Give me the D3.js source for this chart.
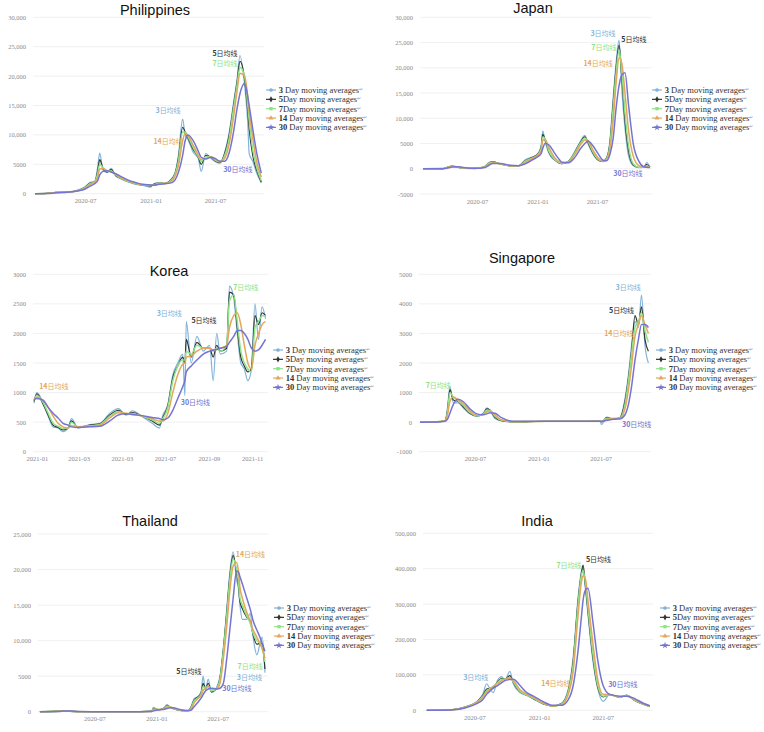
<!DOCTYPE html>
<html>
<head>
<meta charset="utf-8">
<script src="https://cdn.jsdelivr.net/npm/d3@7/dist/d3.min.js"></script>
<style>
  body { margin: 0; background: #fff; }
  svg { display: block; font-family: "Liberation Sans", Arial, sans-serif; }
</style>
</head>
<body>
<svg id="chart" width="764" height="732"></svg>
<script>
// series names / colours
const seriesDays = ["3", "5", "7", "14", "30"];
const seriesColors = ["#82b3d9", "#2f3531", "#8ee387", "#e3a75b", "#7474d2"];

// ---- Philippines
const phDates = ["2020-02-11","2020-03-15","2020-04-10","2020-05-10","2020-06-10","2020-07-01","2020-07-15","2020-07-28","2020-08-05","2020-08-11","2020-08-20","2020-09-01","2020-09-12","2020-09-25","2020-10-10","2020-10-30","2020-11-20","2020-12-10","2021-01-01","2021-01-10","2021-01-25","2021-02-10","2021-02-25","2021-03-10","2021-03-20","2021-04-01","2021-04-08","2021-04-16","2021-05-01","2021-05-15","2021-05-23","2021-06-05","2021-06-20","2021-07-01","2021-07-15","2021-07-28","2021-08-10","2021-08-22","2021-09-01","2021-09-09","2021-09-22","2021-10-01","2021-10-05","2021-10-15","2021-10-26","2021-11-08"];
const ph3  = [0,80,250,280,600,1200,1900,2100,4500,6900,4000,3600,4300,3000,2500,2000,1600,1400,1100,1700,1900,1700,2300,3500,6500,12700,10000,9200,7000,6000,3800,6800,6000,5500,5200,7000,10500,15500,19500,23500,18500,12000,6800,5500,3500,1800];
const ph5  = [0,70,230,260,550,1100,1800,2000,3800,5800,4300,3700,4100,3100,2600,2100,1700,1450,1300,1600,1850,1750,2200,3300,6000,11300,10500,9500,7500,6200,5000,6500,6200,5600,5300,6800,10000,15000,19000,22500,19500,14000,11000,6500,4000,2000];
const ph7  = [0,60,220,250,520,1050,1700,2000,3400,5000,4400,3800,3900,3200,2600,2100,1700,1500,1400,1500,1800,1750,2100,3200,5500,10500,10500,9700,7800,6300,5500,6300,6300,5700,5400,6500,9500,14500,18500,21500,20000,15000,12500,7500,4500,2200];
const ph14 = [0,40,200,250,500,950,1600,1900,2800,4200,4300,3900,3700,3300,2700,2200,1800,1500,1450,1450,1750,1750,2000,2900,4700,9000,10300,9900,8200,6500,5800,6000,6300,5800,5500,6000,8500,13000,17500,20500,20000,16500,14000,9500,5500,2800];
const ph30 = [0,20,150,250,450,800,1300,1700,2200,3200,3800,3900,3700,3400,2900,2300,1900,1600,1500,1450,1600,1700,1800,2300,3600,6500,9000,10000,9000,7200,6200,5900,6200,6000,5500,5500,7000,10500,14500,17000,18800,16500,15000,11000,7000,3500];

// ---- Japan
const jpDates = ["2020-01-19","2020-03-20","2020-04-06","2020-04-16","2020-05-01","2020-05-20","2020-06-25","2020-07-25","2020-08-08","2020-08-18","2020-09-10","2020-10-10","2020-11-05","2020-11-25","2020-12-15","2021-01-02","2021-01-12","2021-01-17","2021-01-24","2021-02-05","2021-02-20","2021-03-05","2021-03-16","2021-04-05","2021-04-25","2021-05-12","2021-05-25","2021-06-03","2021-06-18","2021-07-04","2021-07-19","2021-07-30","2021-08-09","2021-08-19","2021-08-28","2021-09-06","2021-09-14","2021-09-24","2021-10-05","2021-10-19","2021-11-05","2021-11-20","2021-11-29","2021-12-09"];
const jp3  = [0,30,400,600,300,80,60,500,1300,1400,900,550,600,1800,2300,3000,4500,7500,5500,3000,1800,1200,1000,1500,3500,5500,6600,5000,3000,1700,1400,2200,5500,14000,21000,25500,16000,8000,2500,600,200,300,1200,300];
const jp5  = [0,30,380,550,350,100,60,450,1200,1350,950,580,600,1600,2200,2900,4200,6800,5800,3300,1900,1250,1000,1450,3300,5300,6300,5300,3200,1800,1450,2100,5000,13000,20000,24500,18500,9500,3500,800,250,300,800,300];
const jp7  = [0,30,350,520,380,120,60,400,1150,1300,950,600,600,1500,2100,2800,3900,6300,5900,3500,2000,1300,1050,1400,3200,5100,6100,5500,3400,1900,1500,2000,4500,12000,19000,23500,19500,11000,4500,1000,300,300,600,300];
const jp14 = [0,30,300,450,420,150,60,350,1000,1200,1000,620,600,1300,2000,2700,3500,5600,5800,4200,2400,1500,1100,1350,2900,4800,5700,5600,3800,2200,1500,1800,3800,9500,17000,22000,21000,15000,7500,2500,600,300,400,300];
const jp30 = [0,20,200,350,420,250,80,250,750,1050,1050,700,620,1000,1700,2400,3000,4000,5000,4700,3300,2100,1300,1200,2300,4000,5000,5500,4600,3000,1700,1600,2800,6000,12000,16500,18500,19000,12500,5000,1500,400,300,250];

// ---- Korea
const krDates = ["2020-12-28","2021-01-01","2021-01-10","2021-01-17","2021-01-24","2021-01-31","2021-02-07","2021-02-14","2021-02-19","2021-02-28","2021-03-17","2021-03-31","2021-04-14","2021-04-26","2021-05-07","2021-05-16","2021-05-30","2021-06-13","2021-06-23","2021-06-28","2021-07-05","2021-07-12","2021-07-19","2021-07-26","2021-07-29","2021-07-31","2021-08-07","2021-08-15","2021-08-24","2021-09-02","2021-09-07","2021-09-12","2021-09-17","2021-09-26","2021-09-30","2021-10-06","2021-10-11","2021-10-16","2021-10-21","2021-10-26","2021-10-31","2021-11-05","2021-11-10","2021-11-15","2021-11-20"];
const kr3  = [820,1000,820,600,420,400,340,400,560,400,460,480,650,730,620,690,590,480,400,620,800,1300,1500,1650,950,2200,1500,1950,1700,1800,1200,2000,1650,1700,2800,2600,2000,1500,1400,1200,1400,2500,1900,2450,2250];
const kr5  = [850,980,800,620,450,410,370,400,520,410,450,470,620,700,630,660,600,520,450,580,780,1250,1450,1600,1500,1900,1600,1850,1750,1750,1600,1800,1700,1750,2700,2650,2100,1600,1450,1350,1400,2300,2150,2350,2300];
const kr7  = [870,950,830,650,480,430,390,400,500,420,440,460,600,680,640,645,600,540,480,560,750,1200,1450,1550,1550,1700,1650,1800,1750,1750,1700,1750,1700,1800,2550,2650,2200,1700,1500,1400,1350,2100,2200,2300,2300];
const kr14 = [880,920,860,750,600,480,420,400,440,420,430,450,570,660,650,630,605,560,520,520,650,1000,1300,1480,1500,1600,1620,1700,1750,1750,1720,1730,1750,1800,2100,2300,2350,2150,1800,1500,1400,1800,2000,2150,2200];
const kr30 = [880,900,870,750,650,570,480,450,420,410,420,430,520,620,640,630,610,580,560,540,570,700,900,1100,1200,1350,1450,1550,1650,1700,1720,1730,1750,1780,1850,1950,2050,2050,2000,1900,1750,1700,1720,1800,1900];

// ---- Singapore
const sgDates = ["2020-01-23","2020-03-10","2020-04-05","2020-04-12","2020-04-19","2020-04-29","2020-05-13","2020-05-28","2020-06-16","2020-07-06","2020-07-25","2020-08-04","2020-08-13","2020-08-28","2020-09-16","2020-10-20","2021-01-25","2021-05-22","2021-06-29","2021-07-04","2021-07-19","2021-08-07","2021-08-26","2021-09-10","2021-09-20","2021-09-29","2021-10-09","2021-10-19","2021-10-28","2021-11-07","2021-11-17"];
const sg3  = [0,10,60,500,1200,650,650,480,280,200,300,480,400,120,40,10,30,30,40,-80,170,100,150,800,1600,2600,3400,3200,4300,2600,2000];
const sg5  = [0,10,55,400,1100,750,700,520,300,200,280,450,420,160,50,10,30,30,35,10,150,110,150,700,1500,2400,3600,3300,3900,2800,2400];
const sg7  = [0,10,50,350,1000,850,720,560,330,210,270,400,400,200,60,15,30,30,30,20,130,120,140,600,1400,2300,3200,3400,3700,3100,2700];
const sg14 = [0,10,40,250,700,850,750,620,380,230,260,350,380,250,80,20,30,30,30,30,100,120,130,450,1100,1900,2900,3300,3600,3300,3000];
const sg30 = [0,5,30,100,300,600,770,690,450,280,250,280,320,300,150,30,30,30,30,30,60,100,110,250,600,1200,2100,2800,3300,3300,3200];

// ---- Thailand
const thDates = ["2020-01-22","2020-03-20","2020-03-30","2020-04-20","2020-05-20","2020-07-18","2020-11-13","2020-12-18","2020-12-23","2021-01-05","2021-01-15","2021-01-25","2021-02-01","2021-02-10","2021-02-20","2021-03-05","2021-03-17","2021-04-05","2021-04-14","2021-04-22","2021-05-05","2021-05-13","2021-05-19","2021-05-26","2021-06-03","2021-06-13","2021-06-28","2021-07-08","2021-07-18","2021-07-28","2021-08-06","2021-08-16","2021-08-26","2021-08-31","2021-09-05","2021-09-12","2021-09-25","2021-10-05","2021-10-14","2021-10-25","2021-11-03","2021-11-10","2021-11-18"];
const th3  = [0,120,150,40,5,5,10,100,600,250,350,600,1000,600,400,250,150,150,800,1800,2200,2800,5000,3000,4600,2700,3400,5000,9000,14500,19500,22500,18500,17500,15000,13000,13000,13800,10500,8000,9500,10500,5500];
const th5  = [0,110,140,50,5,5,10,80,450,300,330,550,900,650,450,250,160,150,700,1600,2100,2600,4000,3300,4000,2800,3300,4800,8800,14000,19000,22000,19500,18000,15500,14500,13300,12800,10800,9500,9600,9500,6000];
const th7  = [0,100,130,60,5,5,10,60,380,320,320,500,800,700,450,260,170,150,600,1500,2000,2500,3500,3400,3600,2900,3300,4600,8500,13500,18500,21500,20000,18500,16000,15000,13500,12500,11000,10000,9700,9000,7000];
const th14 = [0,80,120,80,10,5,10,40,250,330,300,450,650,650,500,300,200,150,400,1200,1900,2300,3000,3300,3500,3200,3200,4000,7500,12000,17000,20500,21000,20000,17500,16000,14000,12800,11500,10500,9600,8800,7500];
const th30 = [0,40,90,100,20,5,10,20,120,250,300,350,450,550,550,400,250,170,250,700,1400,1900,2400,2900,3200,3300,3200,3300,4000,7500,11500,16000,19800,19700,19000,18000,16000,14500,12800,11500,10500,9600,8500];

// ---- India
const inDates = ["2020-02-17","2020-04-01","2020-05-12","2020-06-09","2020-07-08","2020-07-25","2020-08-05","2020-08-15","2020-08-24","2020-09-05","2020-09-17","2020-09-26","2020-10-10","2020-10-20","2020-11-08","2020-11-27","2020-12-16","2021-01-13","2021-02-10","2021-03-06","2021-03-25","2021-04-08","2021-04-22","2021-05-01","2021-05-06","2021-05-13","2021-05-20","2021-06-03","2021-06-17","2021-07-02","2021-07-21","2021-08-19","2021-09-07","2021-09-30","2021-10-24","2021-11-12"];
const in3  = [0,500,3500,11000,24000,45000,75000,60000,50000,85000,95000,85000,110000,75000,50000,42000,32000,18000,12000,20000,60000,150000,320000,390000,400000,340000,270000,140000,60000,25000,45000,36000,43000,27000,17000,11000];
const in5  = [0,450,3300,10500,23500,42000,60000,62000,65000,80000,90000,88000,98000,78000,52000,43000,33000,18000,12000,19000,55000,140000,310000,385000,410000,350000,280000,150000,65000,38000,44000,37000,42000,28000,17000,11000];
const in7  = [0,400,3200,10000,23000,40000,55000,62000,68000,78000,88000,88000,93000,80000,53000,43000,34000,19000,12000,18000,52000,130000,300000,380000,395000,360000,290000,160000,70000,40000,44000,37000,42000,28000,17000,11000];
const in14 = [0,350,3000,9500,22000,36000,52000,60000,68000,75000,84000,88000,90000,84000,58000,45000,36000,20000,12500,16000,45000,110000,270000,360000,380000,370000,310000,190000,85000,45000,44000,38000,41000,30000,18000,11500];
const in30 = [0,200,2500,8000,19000,30000,45000,55000,62000,70000,78000,84000,87000,88000,70000,50000,40000,24000,14000,14000,30000,70000,170000,260000,310000,340000,345000,250000,140000,70000,45000,40000,40000,33000,20000,13000];

// ---- axis labels
const ticks30k = [0, 5000, 10000, 15000, 20000, 25000, 30000];
const labels30k = ["0", "5000", "10,000", "15,000", "20,000", "25,000", "30,000"];
const ticksJp = [-5000, 0, 5000, 10000, 15000, 20000, 25000, 30000];
const labelsJp = ["-5000", "0", "5000", "10,000", "15,000", "20,000", "25,000", "30,000"];
const ticksKr = [0, 500, 1000, 1500, 2000, 2500, 3000];
const labelsKr = ["0", "500", "1000", "1500", "2000", "2500", "3000"];
const ticksSg = [-1000, 0, 1000, 2000, 3000, 4000, 5000];
const labelsSg = ["-1000", "0", "1000", "2000", "3000", "4000", "5000"];
const ticksTh = [0, 5000, 10000, 15000, 20000, 25000];
const labelsTh = ["0", "5000", "10,000", "15,000", "20,000", "25,000"];
const ticksIn = [0, 100000, 200000, 300000, 400000, 500000];
const labelsIn = ["0", "100,000", "200,000", "300,000", "400,000", "500,000"];
const monthTicks = ["2020-07-01", "2021-01-01", "2021-07-01"];
const monthLabels = ["2020-07", "2021-01", "2021-07"];
const krMonthTicks = ["2021-01-01", "2021-03-01", "2021-05-01", "2021-07-01", "2021-09-01", "2021-11-01"];
const krMonthLabels = ["2021-01", "2021-03", "2021-03", "2021-07", "2021-09", "2021-11"];

// ---- labels on the lines: [series index, date, value]
const phNotes = [[1,"2021-07-29",23500],[2,"2021-07-29",21700],[0,"2021-02-19",13700],[3,"2021-02-19",8500],[4,"2021-09-03",3700]];
const jpNotes = [[0,"2021-07-19",26200],[1,"2021-10-21",25200],[2,"2021-07-22",23500],[3,"2021-07-04",20300],[4,"2021-10-03",-1450]];
const krNotes = [[3,"2021-01-25",1060],[0,"2021-07-07",2290],[1,"2021-08-25",2170],[2,"2021-10-23",2730],[4,"2021-08-13",790]];
const sgNotes = [[0,"2021-09-19",4480],[1,"2021-08-31",3700],[3,"2021-08-23",2900],[2,"2020-03-16",1150],[4,"2021-10-14",-170]];
const thNotes = [[3,"2021-10-06",21800],[1,"2021-04-07",5300],[2,"2021-10-05",6050],[0,"2021-10-03",4420],[4,"2021-08-27",2870]];
const inNotes = [[0,"2020-07-05",85600],[2,"2021-03-27",401000],[1,"2021-06-19",418000],[3,"2021-02-18",69500],[4,"2021-08-27",66700]];

const parse = d3.utcParse("%Y-%m-%d");

const panels = [
  { title: "Philippines", tx: 155, ty: 15, dates: phDates, series: [ph3, ph5, ph7, ph14, ph30], notes: phNotes,
    xDomain: ["2020-02-11", "2021-11-10"], xRange: [35, 262], grid: [33, 264],
    yDomain: [0, 30000], yRange: [193.7, 17.3], yTicks: ticks30k, yLabels: labels30k,
    xTicks: monthTicks, xLabels: monthLabels, lx: 266, ly: 90 },
  { title: "Japan", tx: 533, ty: 13, dates: jpDates, series: [jp3, jp5, jp7, jp14, jp30], notes: jpNotes,
    xDomain: ["2020-01-19", "2021-12-09"], xRange: [423, 650], grid: [420, 652],
    yDomain: [-5000, 30000], yRange: [194, 17.3], yTicks: ticksJp, yLabels: labelsJp,
    xTicks: monthTicks, xLabels: monthLabels, lx: 652, ly: 90 },
  { title: "Korea", tx: 169, ty: 276, dates: krDates, series: [kr3, kr5, kr7, kr14, kr30], notes: krNotes,
    xDomain: ["2020-12-28", "2021-11-22"], xRange: [34, 267], grid: [33, 268],
    yDomain: [0, 3000], yRange: [451.7, 274.3], yTicks: ticksKr, yLabels: labelsKr,
    xTicks: krMonthTicks, xLabels: krMonthLabels, lx: 273, ly: 350 },
  { title: "Singapore", tx: 522, ty: 263, dates: sgDates, series: [sg3, sg5, sg7, sg14, sg30], notes: sgNotes,
    xDomain: ["2020-01-23", "2021-11-17"], xRange: [420, 648.4], grid: [419, 651],
    yDomain: [-1000, 5000], yRange: [451.7, 274.3], yTicks: ticksSg, yLabels: labelsSg,
    xTicks: monthTicks, xLabels: monthLabels, lx: 656, ly: 350 },
  { title: "Thailand", tx: 150, ty: 526, dates: thDates, series: [th3, th5, th7, th14, th30], notes: thNotes,
    xDomain: ["2020-01-22", "2021-11-22"], xRange: [39.9, 266.3], grid: [38, 268],
    yDomain: [0, 25000], yRange: [711.7, 534], yTicks: ticksTh, yLabels: labelsTh,
    xTicks: monthTicks, xLabels: monthLabels, lx: 274, ly: 608 },
  { title: "India", tx: 537, ty: 526, dates: inDates, series: [in3, in5, in7, in14, in30], notes: inNotes,
    xDomain: ["2020-02-17", "2021-11-12"], xRange: [426.8, 649.9], grid: [423, 653],
    yDomain: [0, 500000], yRange: [710.3, 533.3], yTicks: ticksIn, yLabels: labelsIn,
    xTicks: monthTicks, xLabels: monthLabels, lx: 660, ly: 608 }
];

const svg = d3.select("#chart");
const symbolTypes = [d3.symbolCircle, d3.symbolDiamond, d3.symbolSquare, d3.symbolTriangle, d3.symbolStar];

panels.forEach(p => {
  const g = svg.append("g");
  const x = d3.scaleUtc().domain(p.xDomain.map(parse)).range(p.xRange);
  const y = d3.scaleLinear().domain(p.yDomain).range(p.yRange);

  // gridlines
  g.append("g").selectAll("line").data(p.yTicks).join("line")
    .attr("x1", p.grid[0]).attr("x2", p.grid[1])
    .attr("y1", d => y(d)).attr("y2", d => y(d))
    .attr("stroke", "#ececec").attr("stroke-width", 0.8);

  const yAxis = g.append("g").attr("transform", `translate(${p.grid[0]},0)`)
    .call(d3.axisLeft(y).tickValues(p.yTicks).tickFormat((d, i) => p.yLabels[i]).tickSize(0).tickPadding(7));
  const xAxis = g.append("g").attr("transform", `translate(0,${p.yRange[0]})`)
    .call(d3.axisBottom(x).tickValues(p.xTicks.map(parse)).tickFormat((d, i) => p.xLabels[i]).tickSize(0).tickPadding(5));
  [yAxis, xAxis].forEach(a => {
    a.select(".domain").remove();
    a.selectAll("text").attr("fill", "#8a8a8a")
      .style("font-family", "'Liberation Serif', serif").style("font-size", "6.5px");
  });

  // lines
  const pts = p.dates.map(parse);
  const line = d3.line().x((d, i) => x(pts[i])).y(d => y(d)).curve(d3.curveMonotoneX);
  p.series.forEach((s, k) => {
    g.append("path").datum(s)
      .attr("fill", "none")
      .attr("stroke", seriesColors[k])
      .attr("stroke-width", k < 2 ? 1.2 : 1.5)
      .attr("stroke-linejoin", "round")
      .attr("d", line);
  });

  // title
  g.append("text").attr("x", p.tx).attr("y", p.ty).attr("text-anchor", "middle")
    .style("font-size", "14.5px").attr("fill", "#111").text(p.title);

  // line labels
  p.notes.forEach(n => {
    const t = g.append("text")
      .attr("x", x(parse(n[1]))).attr("y", y(n[2]))
      .attr("text-anchor", "middle").attr("fill", seriesColors[n[0]])
      .style("font-family", "'Noto Sans CJK SC', sans-serif").style("font-size", "7px");
    t.append("tspan").attr("font-weight", "bold").text(seriesDays[n[0]]);
    t.append("tspan").text("日均线");
  });

  // legend
  const lg = g.append("g").attr("transform", `translate(${p.lx},${p.ly})`);
  seriesDays.forEach((s, k) => {
    const row = lg.append("g").attr("transform", `translate(0,${k * 9.35})`);
    row.append("line").attr("x1", 0).attr("x2", 10).attr("stroke", seriesColors[k]).attr("stroke-width", 1.2);
    row.append("path").attr("transform", "translate(5,0)")
      .attr("d", d3.symbol().type(symbolTypes[k]).size(k === 4 ? 14 : 11)())
      .attr("fill", seriesColors[k]);
    const t = row.append("text").attr("x", 12.7).attr("dy", "0.33em")
      .style("font-family", "'Liberation Serif', serif").style("font-size", "8.5px").attr("fill", "#333");
    t.append("tspan").attr("font-weight", "bold").text(s);
    t.append("tspan").text((s === "5" || s === "7" ? "" : " ") + "Day moving averages");
    t.append("tspan").attr("font-size", "5px").attr("fill", "#999").attr("dy", "-2").text("\u21b5");
  });
});
</script>
</body>
</html>
